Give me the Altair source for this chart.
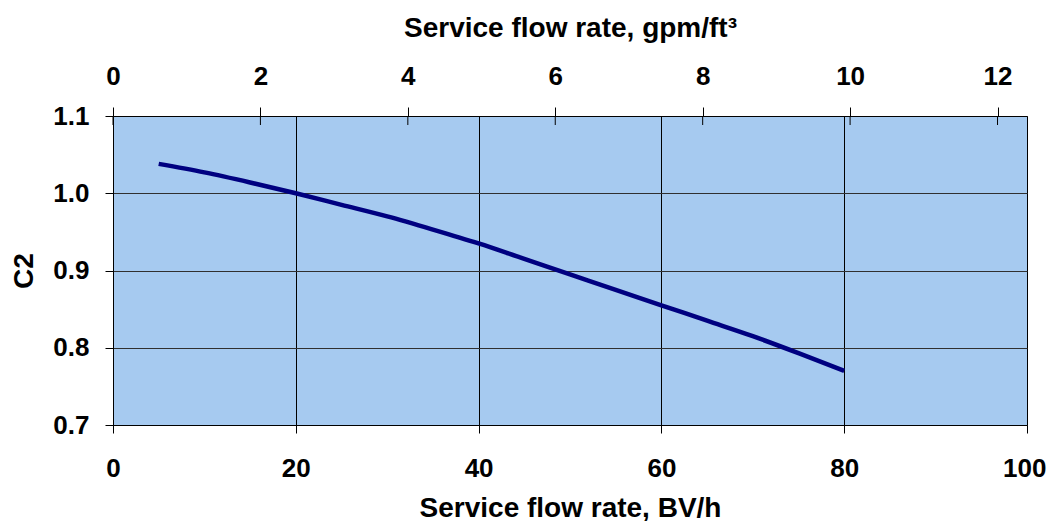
import altair as alt
import pandas as pd

# Data
bv_h = [5, 10, 15, 20, 25, 30, 35, 40, 45, 50, 55, 60, 65, 70, 75, 80]
c2 = [1.038, 1.027, 1.014, 1.000, 0.985, 0.970, 0.953, 0.935, 0.915, 0.895,
      0.875, 0.855, 0.835, 0.815, 0.793, 0.770]
bottom_ticks = [0, 20, 40, 60, 80, 100]
top_ticks = [0, 2, 4, 6, 8, 10, 12]
y_ticks = [0.7, 0.8, 0.9, 1.0, 1.1]

curve = pd.DataFrame({"bv": bv_h, "c2": c2})
tops = pd.DataFrame({"gpm": top_ticks})

FONT = "Liberation Sans"
LFS = 26
TFS = 28

line = alt.Chart(curve).mark_line(color="#000080", strokeWidth=4.5, interpolate="monotone").encode(
    x=alt.X("bv:Q",
            scale=alt.Scale(domain=[0, 100], nice=False),
            axis=alt.Axis(orient="bottom", values=bottom_ticks, title="Service flow rate, BV/h",
                          grid=True, gridColor="#000000", gridWidth=1,
                          tickSize=8, tickColor="#000000", domainColor="#000000",
                          labelFlush=False,
                          labelAlign=alt.expr("datum.value == 100 ? 'right' : 'center'"),
                          labelOffset=alt.expr("datum.value == 100 ? 19 : 0"),
                          labelPadding=22, titlePadding=13)),
    y=alt.Y("c2:Q",
            scale=alt.Scale(domain=[0.7, 1.1], nice=False),
            axis=alt.Axis(values=y_ticks, format=".1f", title="C2",
                          grid=True, gridColor="#303030", gridWidth=1.2,
                          tickSize=8, tickColor="#000000", domainColor="#000000",
                          labelFlush=False, labelPadding=16, titlePadding=14)),
)

top = alt.Chart(tops).mark_rule(color="#000000", strokeWidth=1).encode(
    x=alt.X("gpm:Q",
            scale=alt.Scale(domain=[0, 12.4], nice=False),
            axis=alt.Axis(orient="top", values=top_ticks, title="Service flow rate, gpm/ft³",
                          grid=False, tickSize=9, tickColor="#000000", domainColor="#000000",
                          labelFlush=False, labelPadding=18, titlePadding=21)),
    y=alt.value(0),
    y2=alt.value(9),
)

chart = alt.layer(line, top).resolve_scale(x="independent").properties(
    width=914,
    height=309,
    background="#ffffff",
    autosize=alt.AutoSizeParams(type="none"),
    padding={"left": 105, "top": 108, "right": 20, "bottom": 96},
).configure_view(
    fill="#A6CAF0", stroke="#808080", strokeWidth=1
).configure_axis(
    labelFont=FONT, titleFont=FONT, labelFontSize=LFS, titleFontSize=TFS,
    labelFontWeight="bold", titleFontWeight="bold",
    labelColor="#000000", titleColor="#000000",
)

chart.save("out.html", embed_options={"renderer": "svg", "actions": False})
